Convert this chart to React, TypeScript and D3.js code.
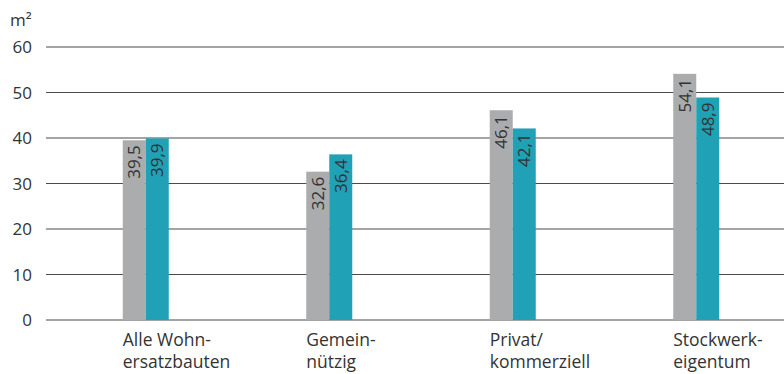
import React from "react";
import * as d3 from "d3";

const categories: string[][] = [
  ["Alle Wohn-", "ersatzbauten"],
  ["Gemein-", "nützig"],
  ["Privat/", "kommerziell"],
  ["Stockwerk-", "eigentum"],
];
const seriesA = [39.5, 32.6, 46.1, 54.1];
const seriesB = [39.9, 36.4, 42.1, 48.9];
const yTicks = [0, 10, 20, 30, 40, 50, 60];
const unitLabel = "m²";

const W = 784;
const H = 374;
const FONT = "'Open Sans', 'Noto Sans', sans-serif";

export default function App() {
  const x = d3.scaleBand<number>().domain(d3.range(categories.length)).range([54, 788]);
  const y = d3.scaleLinear().domain([0, 60]).range([320, 47]);
  const barW = 23;
  const fmt = (v: number) => v.toFixed(1).replace(".", ",");

  return (
    <svg width={W} height={H} style={{ position: "absolute", left: 0, top: 0 }} fontFamily={FONT}>
      <text x={10} y={26} fontSize={17} fill="#333">{unitLabel}</text>
      {yTicks.map((t) => (
        <g key={t}>
          <line x1={46} x2={784} y1={y(t)} y2={y(t)} stroke="#4a4a4a" strokeWidth={1.2} />
          <text x={32} y={y(t)} dy="0.36em" textAnchor="end" fontSize={17} fill="#333">{t}</text>
        </g>
      ))}
      {categories.map((c, i) => {
        const cx = (x(i) as number) + x.bandwidth() / 2;
        const xa = cx - barW;
        const xb = cx;
        return (
          <g key={i}>
            <rect x={xa} y={y(seriesA[i])} width={barW} height={y(0) - y(seriesA[i])} fill="#abacae" />
            <rect x={xb} y={y(seriesB[i])} width={barW} height={y(0) - y(seriesB[i])} fill="#21a1b5" />
            <text transform={`translate(${xa + barW / 2},${y(seriesA[i]) + 5}) rotate(-90)`} textAnchor="end" dy="0.36em" fontSize={17} fill="#333">{fmt(seriesA[i])}</text>
            <text transform={`translate(${xb + barW / 2},${y(seriesB[i]) + 5}) rotate(-90)`} textAnchor="end" dy="0.36em" fontSize={17} fill="#333">{fmt(seriesB[i])}</text>
            <text x={xa} y={346} fontSize={17.5} fill="#333">
              {c.map((line, j) => (
                <tspan key={j} x={xa} dy={j === 0 ? 0 : 22}>{line}</tspan>
              ))}
            </text>
          </g>
        );
      })}
    </svg>
  );
}
